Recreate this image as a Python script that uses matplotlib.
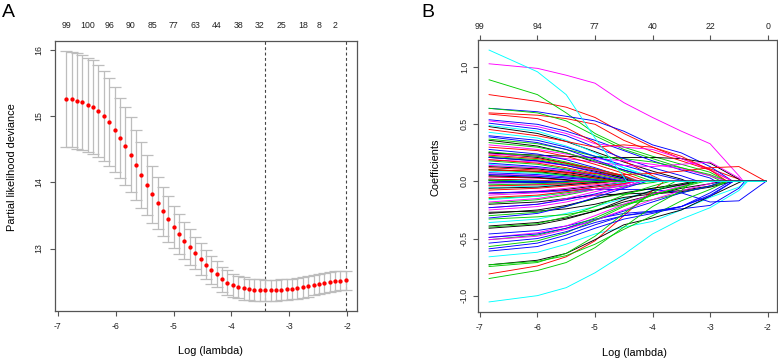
import matplotlib
matplotlib.use("Agg")
import matplotlib.pyplot as plt
from matplotlib.transforms import blended_transform_factory

plt.rcParams["font.family"] = ["Liberation Sans", "DejaVu Sans"]
plt.rcParams["axes.unicode_minus"] = False

# ---------------- Panel A data (cross-validation curve) ----------------
log_lambda = [-6.855, -6.762, -6.669, -6.576, -6.483, -6.390, -6.298, -6.205, -6.112, -6.019,
              -5.926, -5.833, -5.740, -5.647, -5.554, -5.461, -5.368, -5.275, -5.183, -5.090,
              -4.997, -4.904, -4.811, -4.718, -4.625, -4.532, -4.439, -4.346, -4.253, -4.160,
              -4.068, -3.975, -3.882, -3.789, -3.696, -3.603, -3.510, -3.417, -3.324, -3.231,
              -3.138, -3.045, -2.953, -2.860, -2.767, -2.674, -2.581, -2.488, -2.395, -2.302,
              -2.209, -2.116, -2.023]
cv_mean = [15.261, 15.256, 15.236, 15.211, 15.176, 15.141, 15.080, 15.005, 14.914, 14.799,
           14.673, 14.548, 14.417, 14.266, 14.110, 13.964, 13.819, 13.693, 13.567, 13.446,
           13.326, 13.220, 13.120, 13.024, 12.934, 12.843, 12.753, 12.672, 12.612, 12.537,
           12.486, 12.441, 12.416, 12.396, 12.381, 12.376, 12.371, 12.366, 12.371, 12.371,
           12.376, 12.381, 12.386, 12.396, 12.411, 12.426, 12.446, 12.466, 12.481, 12.496,
           12.506, 12.516, 12.521]
cv_se = [0.729, 0.724, 0.724, 0.719, 0.714, 0.709, 0.699, 0.684, 0.669, 0.639,
         0.608, 0.593, 0.568, 0.528, 0.498, 0.458, 0.432, 0.397, 0.372, 0.342,
         0.322, 0.297, 0.282, 0.266, 0.246, 0.236, 0.221, 0.210, 0.200, 0.190,
         0.183, 0.177, 0.172, 0.168, 0.165, 0.163, 0.161, 0.160, 0.159, 0.158,
         0.157, 0.156, 0.155, 0.154, 0.153, 0.152, 0.151, 0.150, 0.149, 0.148,
         0.147, 0.146, 0.145]
nz_label_idx = [0, 4, 8, 12, 16, 20, 24, 28, 32, 36, 40, 44, 47, 50]
nz_labels = ["99", "100", "96", "90", "85", "77", "63", "44", "38", "32", "25", "18", "8", "2"]
lambda_min_idx = 37
lambda_1se_idx = 52
xticks_A = [-7, -6, -5, -4, -3, -2]
yticks_A = [13, 14, 15, 16]

# ---------------- Panel B data (coefficient paths) ----------------
# each row: coefficient at the knots below, then the log(lambda) where it becomes 0
knots = [-6.84, -6.0, -5.5, -5.0, -4.5, -4.0, -3.5, -3.0, -2.5]
x_end = -2.03
df_ticks = [-7, -6, -5, -4, -3, -2]
df_labels = ["99", "94", "77", "40", "22", "0"]
yticks_B = [-1.0, -0.5, 0.0, 0.5, 1.0]

paths_black = [
    [0.48, 0.42, 0.35, 0.26, 0.17, 0.09, 0.02, 0, 0, -3.4],
    [0.25, 0.23, 0.22, 0.21, 0.21, 0.21, 0.20, 0.16, 0.02, -2.45],
    [0.36, 0.31, 0.25, 0.17, 0.10, 0.03, 0, 0, 0, -3.8],
    [0.25, 0.21, 0.16, 0.10, 0.03, 0, 0, 0, 0, -4.4],
    [0.21, 0.18, 0.14, 0.09, 0.03, 0, 0, 0, 0, -4.35],
    [0.105, 0.085, 0.06, 0.03, 0, 0, 0, 0, 0, -4.6],
    [0.13, 0.11, 0.08, 0.04, 0, 0, 0, 0, 0, -4.55],
    [0.02, 0.008, 0, 0, 0, 0, 0, 0, 0, -5.7],
    [-0.012, -0.008, -0.004, 0, 0, 0, 0, 0, 0, -5.2],
    [-0.105, -0.09, -0.07, -0.04, -0.01, 0, 0, 0, 0, -4.4],
    [-0.20, -0.18, -0.15, -0.12, -0.11, -0.10, -0.08, -0.04, 0, -2.7],
    [-0.27, -0.26, -0.24, -0.20, -0.14, -0.11, -0.09, -0.05, 0, -2.6],
    [-0.28, -0.25, -0.21, -0.15, -0.10, -0.06, -0.02, 0, 0, -3.3],
    [-0.39, -0.36, -0.32, -0.26, -0.18, -0.12, -0.06, -0.02, 0, -2.8],
    [-0.41, -0.38, -0.33, -0.26, -0.16, -0.08, -0.03, 0, 0, -3.2],
    [-0.73, -0.69, -0.63, -0.51, -0.38, -0.32, -0.25, -0.13, -0.01, -2.45],
    [-0.06, -0.05, -0.03, -0.01, 0, 0, 0, 0, 0, -4.7],
    [0.008, 0, 0, 0, 0, 0, 0, 0, 0, -6.3],
    [0.05, 0.035, 0.015, 0, 0, 0, 0, 0, 0, -5.3],
]
paths_red = [
    [0.76, 0.70, 0.65, 0.56, 0.42, 0.30, 0.20, 0.11, 0.02, -2.45],
    [0.60, 0.58, 0.55, 0.50, 0.36, 0.26, 0.18, 0.10, 0, -2.6],
    [0.59, 0.55, 0.47, 0.34, 0.18, 0.05, 0, 0, 0, -3.8],
    [0.455, 0.40, 0.35, 0.30, 0.32, 0.30, 0.22, 0.10, 0, -2.7],
    [0.30, 0.27, 0.22, 0.15, 0.07, 0, 0, 0, 0, -4.1],
    [0.19, 0.16, 0.12, 0.07, 0.02, 0, 0, 0, 0, -4.4],
    [0.12, 0.10, 0.07, 0.03, 0, 0, 0, 0, 0, -4.6],
    [0.017, 0.01, 0, 0, 0, 0, 0, 0, 0, -5.6],
    [0.23, 0.20, 0.16, 0.11, 0.05, 0, 0, 0, 0, -4.3],
    [0.10, 0.09, 0.08, 0.07, 0.06, 0.07, 0.09, 0.12, 0.13, -2.03],
    [-0.076, -0.06, -0.04, -0.02, 0, 0, 0, 0, 0, -4.7],
    [-0.81, -0.74, -0.66, -0.52, -0.30, -0.08, 0, 0, 0, -3.8],
    [-0.14, -0.12, -0.09, -0.05, -0.02, 0, 0, 0, 0, -4.3],
    [-0.04, -0.03, -0.02, 0, 0, 0, 0, 0, 0, -5.0],
    [-0.01, 0, 0, 0, 0, 0, 0, 0, 0, -6.5],
    [0.04, 0.03, 0.01, 0, 0, 0, 0, 0, 0, -5.3],
]
paths_green = [
    [0.89, 0.76, 0.60, 0.42, 0.30, 0.22, 0.15, 0.08, 0, -2.7],
    [0.64, 0.60, 0.53, 0.40, 0.28, 0.20, 0.12, 0.05, 0, -2.8],
    [0.37, 0.33, 0.28, 0.22, 0.20, 0.17, 0.12, 0.06, 0, -2.7],
    [0.34, 0.30, 0.25, 0.18, 0.09, 0, 0, 0, 0, -4.0],
    [0.22, 0.19, 0.15, 0.10, 0.04, 0, 0, 0, 0, -4.3],
    [0.18, 0.15, 0.11, 0.06, 0.01, 0, 0, 0, 0, -4.45],
    [0.26, 0.22, 0.17, 0.11, 0.05, 0, 0, 0, 0, -4.25],
    [0.10, 0.08, 0.05, 0.02, 0, 0, 0, 0, 0, -4.7],
    [-0.01, -0.006, 0, 0, 0, 0, 0, 0, 0, -5.6],
    [-0.15, -0.13, -0.10, -0.07, -0.04, -0.01, 0, 0, 0, -3.9],
    [-0.19, -0.16, -0.12, -0.07, -0.02, 0, 0, 0, 0, -4.3],
    [-0.30, -0.27, -0.22, -0.15, -0.11, -0.06, -0.03, 0, 0, -3.2],
    [-0.33, -0.31, -0.29, -0.25, -0.20, -0.16, -0.10, -0.04, 0, -2.7],
    [-0.40, -0.37, -0.31, -0.22, -0.12, -0.04, 0, 0, 0, -3.7],
    [-0.51, -0.47, -0.41, -0.32, -0.21, -0.12, -0.05, 0, 0, -3.2],
    [-0.57, -0.52, -0.45, -0.34, -0.22, -0.12, -0.05, 0, 0, -3.1],
    [-0.73, -0.70, -0.65, -0.55, -0.42, -0.30, -0.17, -0.07, 0, -2.7],
    [-0.745, -0.71, -0.63, -0.48, -0.28, -0.10, 0, 0, 0, -3.6],
    [-0.85, -0.78, -0.71, -0.58, -0.40, -0.22, -0.08, 0, 0, -3.3],
    [0.01, 0, 0, 0, 0, 0, 0, 0, 0, -6.2],
    [-0.03, -0.02, -0.01, 0, 0, 0, 0, 0, 0, -5.4],
]
paths_blue = [
    [0.64, 0.61, 0.57, 0.53, 0.44, 0.32, 0.25, 0.13, 0, -2.6],
    [0.54, 0.50, 0.44, 0.36, 0.27, 0.18, 0.10, 0.03, 0, -2.9],
    [0.51, 0.46, 0.40, 0.30, 0.20, 0.12, 0.05, 0, 0, -3.2],
    [0.40, 0.36, 0.30, 0.22, 0.14, 0.07, 0.01, 0, 0, -3.4],
    [0.39, 0.34, 0.28, 0.19, 0.10, 0.03, 0, 0, 0, -3.8],
    [0.28, 0.24, 0.19, 0.12, 0.04, 0, 0, 0, 0, -4.3],
    [0.16, 0.13, 0.10, 0.05, 0, 0, 0, 0, 0, -4.5],
    [0.076, 0.06, 0.04, 0.015, 0, 0, 0, 0, 0, -4.8],
    [0.06, 0.045, 0.03, 0.01, 0, 0, 0, 0, 0, -4.8],
    [0.21, 0.18, 0.14, 0.08, 0.02, 0, 0, 0, 0, -4.4],
    [-0.012, -0.01, -0.005, 0, 0, 0, 0, 0, 0, -5.3],
    [-0.10, -0.09, -0.08, -0.07, -0.07, -0.07, -0.10, -0.18, -0.17, -2.03],
    [-0.23, -0.20, -0.16, -0.11, -0.05, 0, 0, 0, 0, -4.2],
    [-0.46, -0.43, -0.39, -0.33, -0.28, -0.26, -0.24, -0.21, -0.06, -2.4],
    [-0.49, -0.46, -0.41, -0.34, -0.26, -0.18, -0.10, -0.04, 0, -2.8],
    [-0.54, -0.50, -0.44, -0.36, -0.30, -0.27, -0.22, -0.12, 0, -2.6],
    [-0.59, -0.54, -0.47, -0.38, -0.30, -0.26, -0.22, -0.13, 0, -2.6],
    [-0.61, -0.57, -0.50, -0.41, -0.33, -0.28, -0.22, -0.10, 0, -2.65],
    [-0.32, -0.28, -0.22, -0.14, -0.06, 0, 0, 0, 0, -4.1],
    [-0.006, 0, 0, 0, 0, 0, 0, 0, 0, -6.4],
]
paths_cyan = [
    [1.15, 0.96, 0.76, 0.38, 0.04, 0, 0, 0, 0, -4.45],
    [0.49, 0.44, 0.36, 0.25, 0.12, 0.02, 0, 0, 0, -3.9],
    [0.43, 0.38, 0.31, 0.22, 0.12, 0.04, 0, 0, 0, -3.8],
    [0.09, 0.07, 0.05, 0.02, 0, 0, 0, 0, 0, -4.7],
    [0.047, 0.035, 0.02, 0, 0, 0, 0, 0, 0, -5.0],
    [0.15, 0.12, 0.08, 0.04, 0, 0, 0, 0, 0, -4.6],
    [-0.055, -0.04, -0.025, -0.01, 0, 0, 0, 0, 0, -4.8],
    [-0.36, -0.33, -0.28, -0.22, -0.15, -0.08, -0.03, 0, 0, -3.2],
    [-0.66, -0.62, -0.55, -0.46, -0.40, -0.35, -0.25, -0.14, -0.05, -2.35],
    [-0.16, -0.13, -0.09, -0.05, -0.01, 0, 0, 0, 0, -4.4],
    [-1.055, -1.00, -0.93, -0.80, -0.64, -0.46, -0.33, -0.23, -0.08, -2.35],
    [0.012, 0.004, 0, 0, 0, 0, 0, 0, 0, -5.8],
]
paths_magenta = [
    [1.03, 0.99, 0.93, 0.86, 0.69, 0.56, 0.44, 0.33, 0.05, -2.42],
    [0.53, 0.48, 0.42, 0.33, 0.30, 0.28, 0.20, 0.10, 0, -2.6],
    [0.32, 0.28, 0.24, 0.20, 0.18, 0.15, 0.11, 0.05, 0, -2.7],
    [0.24, 0.22, 0.20, 0.17, 0.14, 0.13, 0.15, 0.17, 0.03, -2.45],
    [0.19, 0.17, 0.14, 0.10, 0.05, 0, 0, 0, 0, -4.2],
    [0.14, 0.12, 0.09, 0.05, 0, 0, 0, 0, 0, -4.5],
    [0.04, 0.03, 0.015, 0, 0, 0, 0, 0, 0, -5.1],
    [0.065, 0.05, 0.03, 0.01, 0, 0, 0, 0, 0, -4.9],
    [-0.035, -0.025, -0.015, -0.005, 0, 0, 0, 0, 0, -4.8],
    [-0.105, -0.085, -0.06, -0.03, 0, 0, 0, 0, 0, -4.5],
    [-0.12, -0.10, -0.08, -0.05, -0.02, 0, 0, 0, 0, -4.3],
    [-0.23, -0.20, -0.15, -0.09, -0.03, 0, 0, 0, 0, -4.3],
    [-0.25, -0.22, -0.18, -0.12, -0.05, 0, 0, 0, 0, -4.2],
    [-0.49, -0.45, -0.39, -0.30, -0.20, -0.11, -0.04, 0, 0, -3.2],
    [-0.51, -0.48, -0.42, -0.34, -0.25, -0.16, -0.08, -0.02, 0, -2.9],
    [-0.18, -0.15, -0.11, -0.07, -0.03, 0, 0, 0, 0, -4.3],
    [-0.008, 0, 0, 0, 0, 0, 0, 0, 0, -6.1],
]

# ---------------- styling ----------------
W, H = 778, 359
FRAME = "#555555"
TICK_FS = 6.3
LAB_FS = 7.9


def fx(px):
    return px / W


def fy(py):
    return 1 - py / H


def r_lim(lo, hi):
    pad = 0.04 * (hi - lo)
    return lo - pad, hi + pad


fig = plt.figure(figsize=(W / 100, H / 100), dpi=100)


def style_axes(ax, ypad):
    for s in ax.spines.values():
        s.set_color(FRAME)
        s.set_linewidth(0.9)
    ax.tick_params(direction="out", length=3.4, width=0.8, color=FRAME,
                   labelsize=TICK_FS, labelcolor="#222222")
    ax.tick_params(axis="x", pad=4.4)
    ax.tick_params(axis="y", labelrotation=90, pad=ypad)
    for lab in ax.get_yticklabels():
        lab.set_va("center")


# ---------------- Panel A ----------------
axA = fig.add_axes([fx(55), fy(311), fx(357) - fx(55), fy(41) - fy(311)])
axA.errorbar(log_lambda, cv_mean, yerr=cv_se, fmt="none", ecolor="#BDBDBD",
             elinewidth=0.9, capsize=4.3, capthick=0.9, zorder=2)
axA.plot(log_lambda, cv_mean, "o", color="red", markersize=3.1,
         markeredgewidth=0, zorder=3)
for idx in (lambda_min_idx, lambda_1se_idx):
    axA.axvline(log_lambda[idx], color="#444444", lw=0.8, ls=(0, (2.6, 2.2)), zorder=1)
axA.set_xlim(*r_lim(min(log_lambda), max(log_lambda)))
axA.set_ylim(*r_lim(min(m - s for m, s in zip(cv_mean, cv_se)),
                    max(m + s for m, s in zip(cv_mean, cv_se))))
axA.set_xticks(xticks_A)
axA.set_yticks(yticks_A)
style_axes(axA, 5.0)
trA = blended_transform_factory(axA.transData, fig.transFigure)
for idx, lab in zip(nz_label_idx, nz_labels):
    axA.text(log_lambda[idx], fy(25), lab, transform=trA, ha="center", va="center",
             fontsize=TICK_FS, color="#222222")

fig.text(fx(210.5), fy(351.5), "Log (lambda)", ha="center", va="center", fontsize=LAB_FS)
fig.text(fx(12.5), fy(167.5), "Partial likelihood deviance", ha="center", va="center",
         rotation=90, fontsize=LAB_FS)
fig.text(fx(2), fy(17), "A", ha="left", va="baseline", fontsize=14)

# ---------------- Panel B ----------------
axB = fig.add_axes([fx(478), fy(312), fx(777) - fx(478), fy(40) - fy(312)])
groups = [("black", paths_black), ("red", paths_red), ("#00CD00", paths_green),
          ("blue", paths_blue), ("cyan", paths_cyan), ("magenta", paths_magenta)]


def path_xy(row):
    xz = row[-1]
    xs = [k for k in knots if k < xz]
    ys = list(row[:len(xs)])
    return xs + [xz, x_end], ys + [0.0, 0.0]


order = []
maxlen = max(len(rows) for _, rows in groups)
for i in range(maxlen):
    for col, rows in groups:
        if i < len(rows) and not (col == "cyan" and i == 0):
            order.append((col, rows[i]))
order.append(("cyan", paths_cyan[0]))
for col, row in order:
    xs, ys = path_xy(row)
    axB.plot(xs, ys, color=col, lw=0.65, solid_joinstyle="round")

all_vals = [v for _, rows in groups for row in rows for v in row[:-1]]
axB.set_xlim(*r_lim(knots[0], x_end))
axB.set_ylim(*r_lim(min(all_vals), max(all_vals)))
axB.set_xticks(df_ticks)
axB.set_yticks(yticks_B)
axB.set_yticklabels([f"{v:.1f}" for v in yticks_B])
style_axes(axB, 3.2)
top = axB.secondary_xaxis("top")
top.set_xticks(df_ticks)
top.set_xticklabels(df_labels)
top.tick_params(direction="out", length=3.4, width=0.8, color=FRAME,
                labelsize=TICK_FS, labelcolor="#222222", pad=3.0)
top.spines["top"].set_visible(False)

fig.text(fx(635), fy(352.5), "Log (lambda)", ha="center", va="center", fontsize=LAB_FS)
fig.text(fx(435.7), fy(167), "Coefficients", ha="center", va="center",
         rotation=90, fontsize=LAB_FS)
fig.text(fx(421), fy(17), "B", ha="left", va="baseline", fontsize=14)

fig.savefig("out.png", dpi=100)
